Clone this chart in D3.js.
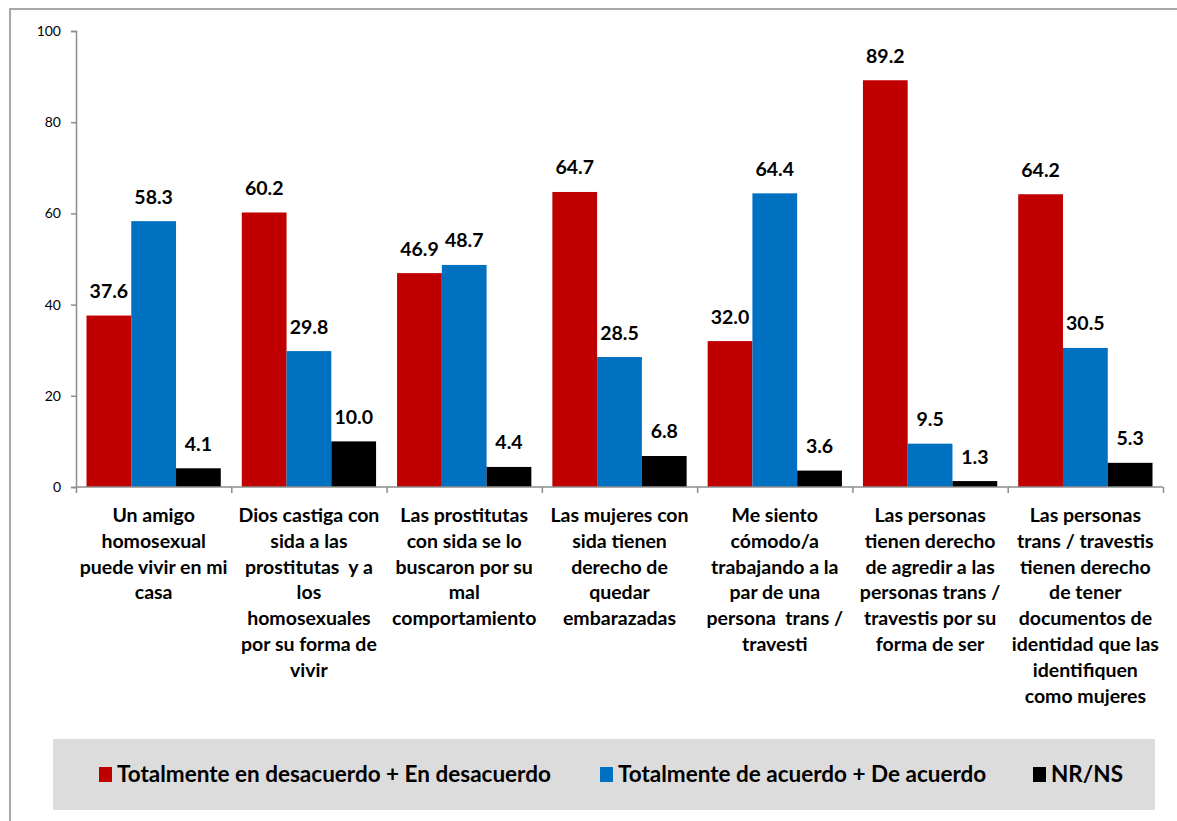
<!DOCTYPE html>
<html><head><meta charset="utf-8">
<script src="https://cdn.jsdelivr.net/npm/d3@7"></script>
<style>body{margin:0;background:#fff}svg{display:block}</style>
</head><body>
<script>
const categories = [
  ["Un amigo","homosexual","puede vivir en mi","casa"],
  ["Dios castiga con","sida a las","prostitutas  y a","los","homosexuales","por su forma de","vivir"],
  ["Las prostitutas","con sida se lo","buscaron por su","mal","comportamiento"],
  ["Las mujeres con","sida tienen","derecho de","quedar","embarazadas"],
  ["Me siento","cómodo/a","trabajando a la","par de una","persona  trans /","travesti"],
  ["Las personas","tienen derecho","de agredir a las","personas trans /","travestis por su","forma de ser"],
  ["Las personas","trans / travestis","tienen derecho","de tener","documentos de","identidad que las","identifiquen","como mujeres"]
];
const seriesNames = ["Totalmente en desacuerdo + En desacuerdo","Totalmente de acuerdo + De acuerdo","NR/NS"];
const desacuerdo = [37.6, 60.2, 46.9, 64.7, 32.0, 89.2, 64.2];
const acuerdo    = [58.3, 29.8, 48.7, 28.5, 64.4, 9.5, 30.5];
const nrns       = [4.1, 10.0, 4.4, 6.8, 3.6, 1.3, 5.3];
const yTicks = [0, 20, 40, 60, 80, 100];
const colors = ["#C00000", "#0070C0", "#000000"];

(function () {
const W = 1177, H = 821;
const svg = d3.select("body").append("svg").attr("width", W).attr("height", H);
const font = "Lato, Carlito, Calibri, sans-serif";

svg.append("rect").attr("x", 10).attr("y", 9).attr("width", W + 20).attr("height", H + 20)
  .attr("fill", "none").attr("stroke", "#8c8c8c").attr("stroke-width", 1.5);

const pl = 76, pr = 1163, pt = 31, pb = 487;
const x = d3.scaleBand().domain(d3.range(categories.length)).range([pl, pr]).paddingInner(0).paddingOuter(0);
const bw = x.bandwidth();
const pad = 10.5;
const x1 = d3.scaleBand().domain([0,1,2]).range([pad, bw - pad]).padding(0);
const y = d3.scaleLinear().domain([0, 100]).range([pb, pt]);

const series = [desacuerdo, acuerdo, nrns];

const g = svg.append("g");
series.forEach((vals, si) => {
  g.selectAll(".b" + si).data(vals).enter().append("rect")
    .attr("x", (d, i) => x(i) + x1(si))
    .attr("y", d => y(d))
    .attr("width", x1.bandwidth())
    .attr("height", d => y(0) - y(d))
    .attr("fill", colors[si]);
  g.selectAll(".l" + si).data(vals).enter().append("text")
    .attr("x", (d, i) => x(i) + x1(si) + x1.bandwidth() / 2)
    .attr("y", d => y(d) - 17.5)
    .attr("text-anchor", "middle")
    .attr("font-family", font).attr("font-weight", "bold").attr("font-size", 19.5)
    .attr("fill", "#000")
    .text(d => d.toFixed(1));
});

const yAxis = svg.append("g").attr("transform", `translate(${pl},0)`)
  .call(d3.axisLeft(y).tickValues(yTicks).tickSize(5).tickPadding(10).tickFormat(d3.format("d")));
yAxis.select(".domain").attr("stroke", "#8c8c8c").attr("stroke-width", 1.5);
yAxis.selectAll(".tick line").attr("stroke", "#8c8c8c").attr("stroke-width", 1.5);
yAxis.selectAll("text").attr("font-family", font).attr("font-size", 14).attr("fill", "#000");

const xb = d3.scaleLinear().domain([0, categories.length]).range([pl, pr]);
const xAxis = svg.append("g").attr("transform", `translate(0,${pb})`)
  .call(d3.axisBottom(xb).tickValues(d3.range(categories.length + 1)).tickSize(6).tickFormat(""));
xAxis.select(".domain").attr("stroke", "#8c8c8c").attr("stroke-width", 1.5)
  .attr("d", `M${pl},0H${pr}`);
xAxis.selectAll(".tick line").attr("stroke", "#8c8c8c").attr("stroke-width", 1.5);

categories.forEach((lines, i) => {
  const t = svg.append("text")
    .attr("x", x(i) + bw / 2).attr("y", 522)
    .attr("text-anchor", "middle")
    .attr("font-family", font).attr("font-weight", "bold").attr("font-size", 19.5)
    .attr("fill", "#000");
  lines.forEach((ln, j) => {
    t.append("tspan").attr("x", x(i) + bw / 2).attr("dy", j === 0 ? 0 : 25.8)
      .style("white-space", "pre").text(ln);
  });
});

svg.append("rect").attr("x", 53).attr("y", 739).attr("width", 1102).attr("height", 71).attr("fill", "#DCDCDC");
const legX = [99, 600, 1033];
seriesNames.forEach((name, i) => {
  svg.append("rect").attr("x", legX[i]).attr("y", 767).attr("width", 13).attr("height", 15).attr("fill", colors[i]);
  svg.append("text").attr("x", legX[i] + 18).attr("y", 782)
    .attr("font-family", font).attr("font-weight", "bold").attr("font-size", 22.5)
    .attr("fill", "#000").text(name);
});
})();
</script>
</body></html>
